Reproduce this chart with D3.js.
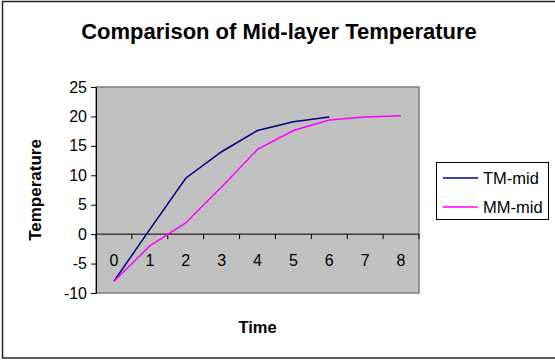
<!DOCTYPE html>
<html><head><meta charset="utf-8">
<script src="https://cdn.jsdelivr.net/npm/d3@7"></script>
<style>body{margin:0;background:#fff}svg{display:block}text{font-family:"Liberation Sans",Arial,sans-serif;fill:#000}</style>
</head><body><svg id="c" width="555" height="360"></svg>
<script>
const categories = [0,1,2,3,4,5,6,7,8];
const tmMid = [-8,0.8,9.5,14.0,17.6,19.1,19.9];
const mmMid = [-8,-2.0,1.9,8.0,14.4,17.6,19.4,19.9,20.1];
const yTicks = [-10,-5,0,5,10,15,20,25];
const seriesNames = ["TM-mid","MM-mid"];
const seriesColors = ["#000080","#ff00ff"];

const svg = d3.select("#c");
const W=555,H=360;
svg.append("rect").attr("x",2.5).attr("y",1.5).attr("width",W).attr("height",356.5)
  .attr("fill","#fff").attr("stroke","#222").attr("stroke-width",1.5);

const pl=96, pr=419, pt=87, pb=293;
const x = d3.scaleBand().domain(categories).range([pl,pr]);
const y = d3.scaleLinear().domain([-10,25]).range([pb,pt]);

svg.append("rect").attr("x",pl).attr("y",pt).attr("width",pr-pl).attr("height",pb-pt)
  .attr("fill","#c0c0c0").attr("stroke","#808080").attr("stroke-width",1.5);

// y axis
const ya = svg.append("g").attr("transform",`translate(${pl},0)`)
  .call(d3.axisLeft(y).tickValues(yTicks).tickFormat(d=>String(d)).tickSize(5).tickPadding(4));
ya.select(".domain").attr("stroke","#000");
ya.selectAll("text").attr("font-size",16).attr("fill","#000");

// x axis at zero
const xa = svg.append("g").attr("transform",`translate(0,${y(0)})`)
  .call(d3.axisBottom(x).tickFormat(d=>String(d)).tickSize(0).tickPadding(20).tickSizeOuter(0));
xa.select(".domain").attr("stroke","#000").attr("d",`M${pl},0H${pr}`);
xa.selectAll("text").attr("font-size",16).attr("fill","#000");
xa.selectAll(".tk").data(d3.range(categories.length+1)).enter().append("line")
  .attr("x1",i=>pl+i*x.step()).attr("x2",i=>pl+i*x.step()).attr("y1",0).attr("y2",5).attr("stroke","#000");

const line = d3.line().x((d,i)=>x(categories[i])+x.bandwidth()/2).y(d=>y(d));
[tmMid,mmMid].forEach((s,k)=>{
  svg.append("path").datum(s).attr("d",line).attr("fill","none")
    .attr("stroke",seriesColors[k]).attr("stroke-width",1.5);
});

svg.append("text").attr("x",279).attr("y",39).attr("text-anchor","middle")
  .attr("font-size",22).attr("font-weight","bold").text("Comparison of Mid-layer Temperature");
svg.append("text").attr("x",(pl+pr)/2).attr("y",333).attr("text-anchor","middle")
  .attr("font-size",16.5).attr("font-weight","bold").text("Time");
svg.append("text").attr("transform",`translate(41,${(pt+pb)/2}) rotate(-90)`).attr("text-anchor","middle")
  .attr("font-size",17).attr("font-weight","bold").text("Temperature");

// legend
const lg = svg.append("g");
lg.append("rect").attr("x",436.5).attr("y",162.5).attr("width",112).attr("height",57)
  .attr("fill","#fff").attr("stroke","#000");
seriesNames.forEach((n,i)=>{
  const yy = 178+i*29;
  lg.append("line").attr("x1",443).attr("x2",478).attr("y1",yy).attr("y2",yy)
    .attr("stroke",seriesColors[i]).attr("stroke-width",1.5);
  lg.append("text").attr("x",483).attr("y",yy+6).attr("font-size",16.5).text(n);
});
</script></body></html>
